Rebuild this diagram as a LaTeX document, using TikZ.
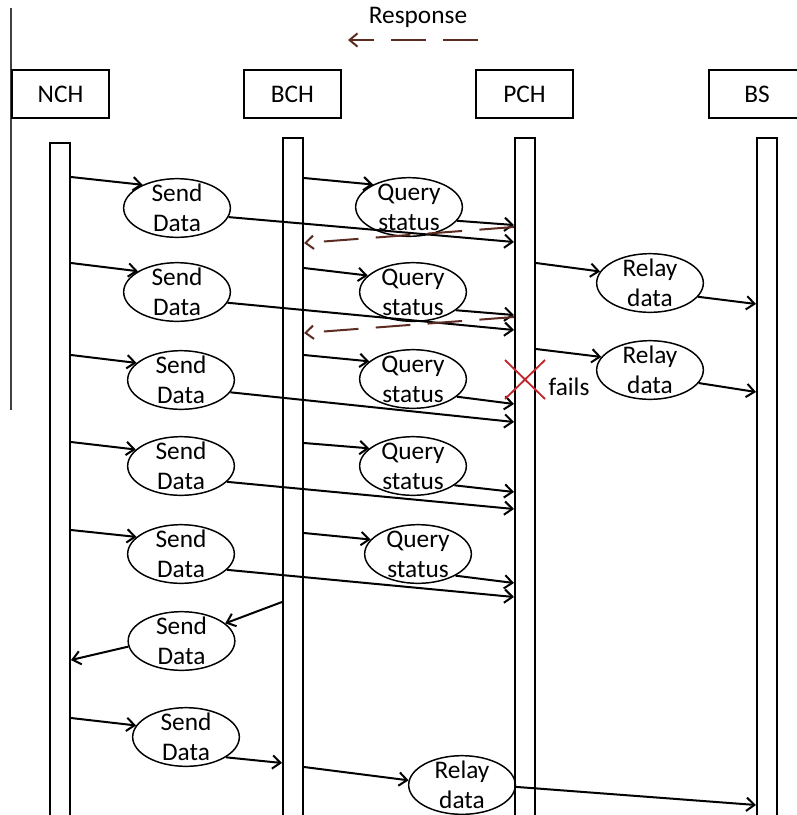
\documentclass[tikz,border=0pt]{standalone}
\usepackage{fontspec}
\setmainfont{Carlito}
\usepackage{xcolor}
\definecolor{respbrown}{HTML}{5C2B22}
\definecolor{failred}{HTML}{C0262C}
\usetikzlibrary{arrows.meta,shapes.geometric}

\begin{document}
\begin{tikzpicture}[x=0.75pt,y=-0.75pt,
  every node/.style={font=\fontsize{19}{22.5}\selectfont},
  head/.style={draw,line width=1.5pt,minimum width=72.75pt,minimum height=36pt,inner sep=0pt},
  bar/.style={draw,line width=1.5pt,minimum width=15pt,minimum height=525pt,anchor=north,inner sep=0pt},
  ell/.style={draw,ellipse,line width=1.1pt,minimum width=80pt,minimum height=44pt,inner sep=0pt},
  txt/.style={align=center,inner sep=0pt},
  msg/.style={line width=1.5pt,-{Straight Barb[length=6pt,width=10pt]}},
  reply/.style={msg,respbrown,dash pattern=on 26pt off 13pt}]
  \useasboundingbox (0,0) rectangle (797,815);
  \clip (0,0) rectangle (797,815);
  % left frame line
  \draw[line width=0.8pt,black!75] (11,8) -- (11,410);
  % legend
  \node (resptxt) at (418,17) {Response};
  \coordinate (lgA) at (478,40);
  \coordinate (lgB) at (348,40);
  \draw[reply] (lgA) -- (lgB);
  % heads and lifelines
  \foreach \nm/\lbl/\x/\xb/\yt in {nch/NCH/60.5/60/142, bch/BCH/292.5/293/137, pch/PCH/524.5/525/137, bs/BS/757/767/137} {
    \node[head] (\nm) at (\x,94) {\lbl};
    \node[bar] (\nm bar) at (\xb,\yt) {};
  }
  % message ellipses
  \foreach \nm/\x/\y/\ta/\tb in {s1/177/208/Send/Data, s2/177/292/Send/Data, s3/181/380/Send/Data,
      s4/181/466/Send/Data, s5/181/554/Send/Data, s6/181.5/641/Send/Data, s7/186/737/Send/Data,
      q1/409/207/Query/status, q2/413/292/Query/status, q3/413/379/Query/status,
      q4/413/466/Query/status, q5/418/554/Query/status,
      r1/650/283/Relay/data, r2/650/370/Relay/data, r3/462/785/Relay/data} {
    \node[ell] (\nm) at (\x,\y) {};
    \node[txt] (\nm t) at (\nm) {\ta\\\tb};
  }
  % row 1
  \draw[msg] (nchbar.east |- 0,177) -- (s1.146);
  \draw[msg] (s1.-10) -- (pchbar.west |- 0,242);
  \draw[msg] (bchbar.east |- 0,178) -- (q1.148);
  \draw[msg] (q1.-16) -- (pchbar.west |- 0,225);
  \draw[reply] (pchbar.west |- 0,227) -- (bchbar.east |- 0,243);
  % row 2
  \draw[msg] (nchbar.east |- 0,263) -- (s2.152);
  \draw[msg] (s2.-12) -- (pchbar.west |- 0,330);
  \draw[msg] (bchbar.east |- 0,268) -- (q2.160);
  \draw[msg] (q2.-23) -- (pchbar.west |- 0,315);
  \draw[reply] (pchbar.west |- 0,317) -- (bchbar.east |- 0,333);
  \draw[msg] (pchbar.east |- 0,263) -- (r1.167);
  \draw[msg] (r1.-16) -- (bsbar.west |- 0,304);
  % row 3 (PCH fails)
  \draw[msg] (nchbar.east |- 0,355) -- (s3.159);
  \draw[msg] (s3.-14) -- (pchbar.west |- 0,422);
  \draw[msg] (bchbar.east |- 0,355) -- (q3.158);
  \draw[msg] (q3.-22) -- (pchbar.west |- 0,404);
  \draw[msg] (pchbar.east |- 0,349) -- (r2.165);
  \draw[msg] (r2.-15) -- (bsbar.west |- 0,392);
  \draw[failred,line width=1.4pt] (505,360) -- (545,399) (505,399) -- (545,360);
  \node (failtxt) at (569,387) {fails};
  % row 4
  \draw[msg] (nchbar.east |- 0,442) -- (s4.160);
  \draw[msg] (s4.-19) -- (pchbar.west |- 0,509);
  \draw[msg] (bchbar.east |- 0,443) -- (q4.158);
  \draw[msg] (q4.-25) -- (pchbar.west |- 0,492);
  % row 5
  \draw[msg] (nchbar.east |- 0,530) -- (s5.159);
  \draw[msg] (s5.-19) -- (pchbar.west |- 0,597);
  \draw[msg] (bchbar.east |- 0,533) -- (q5.163);
  \draw[msg] (q5.-30) -- (pchbar.west |- 0,583);
  % row 6
  \draw[msg] (bchbar.west |- 0,602) -- (s6.22);
  \draw[msg] (s6.186) -- (nchbar.east |- 0,660);
  % row 7
  \draw[msg] (nchbar.east |- 0,718) -- (s7.167);
  \draw[msg] (s7.-27) -- (bchbar.west |- 0,763);
  \draw[msg] (bchbar.east |- 0,767) -- (r3.175);
  \draw[msg] (r3.-2) -- (bsbar.west |- 0,805);
\end{tikzpicture}
\end{document}
